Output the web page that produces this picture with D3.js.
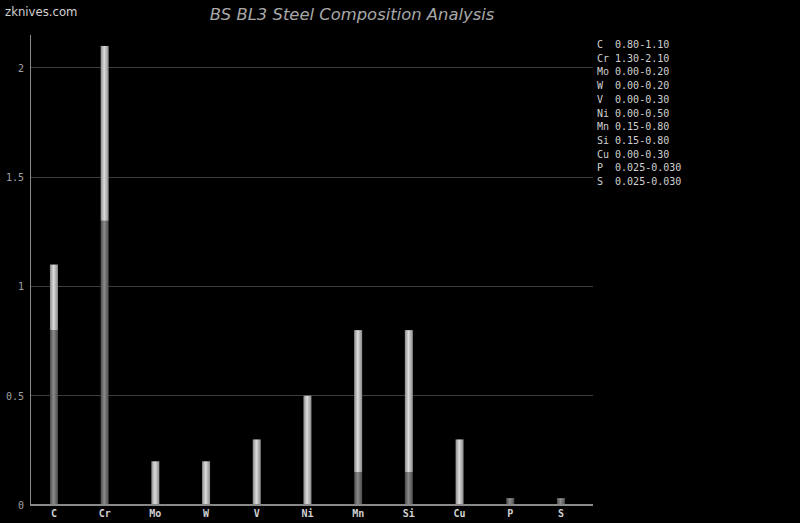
<!DOCTYPE html>
<html><head><meta charset="utf-8">
<script src="https://cdn.jsdelivr.net/npm/d3@7"></script>
<style>body{margin:0;background:#000;}svg{display:block;}</style>
</head><body>
<svg id="chart" width="800" height="523"></svg>
<script>
const elements = ["C","Cr","Mo","W","V","Ni","Mn","Si","Cu","P","S"];
const minValues = [0.80,1.30,0.00,0.00,0.00,0.00,0.15,0.15,0.00,0.025,0.025];
const maxValues = [1.10,2.10,0.20,0.20,0.30,0.50,0.80,0.80,0.30,0.030,0.030];
const rangeLabels = ["0.80-1.10","1.30-2.10","0.00-0.20","0.00-0.20","0.00-0.30","0.00-0.50","0.15-0.80","0.15-0.80","0.00-0.30","0.025-0.030","0.025-0.030"];
const yTicks = [0,0.5,1,1.5,2];
const yTickLabels = ["0","0.5","1","1.5","2"];

const svg = d3.select("#chart");
const W = 800, H = 523;
svg.append("rect").attr("width",W).attr("height",H).attr("fill","#000");

const plotLeft = 30, plotRight = 593, plotTop = 35, plotBottom = 505;
const x = d3.scaleBand().domain(elements).range([28.6, 586.3]);
const y = d3.scaleLinear().domain([0, 2.15]).range([plotBottom, plotTop]);
const mono = "'DejaVu Sans Mono', 'Liberation Mono', monospace";

const defs = svg.append("defs");
function grad(id, edge, center){
  const g = defs.append("linearGradient").attr("id",id).attr("x1","0%").attr("x2","100%").attr("y1","0%").attr("y2","0%");
  g.append("stop").attr("offset","0%").attr("stop-color",edge);
  g.append("stop").attr("offset","45%").attr("stop-color",center);
  g.append("stop").attr("offset","100%").attr("stop-color",edge);
}
grad("gLow","#4a4a4a","#8a8a8a");
grad("gHigh","#8a8a8a","#dcdcdc");

// gridlines
svg.append("g").selectAll("line").data(yTicks.filter(d=>d>0)).join("line")
  .attr("x1",plotLeft).attr("x2",plotRight)
  .attr("y1",d=>y(d)).attr("y2",d=>y(d))
  .attr("stroke","#3c3c3c").attr("stroke-width",1).attr("shape-rendering","crispEdges");

// y tick labels
svg.append("g").selectAll("text").data(yTicks).join("text")
  .attr("x",24).attr("y",d=>y(d)+4)
  .attr("text-anchor","end").attr("fill","#a0a0a0")
  .attr("font-family",mono).attr("font-size","10px")
  .text((d,i)=>yTickLabels[i]);

// bars
const bw = 8;
const bars = svg.append("g");
bars.selectAll("rect.low").data(elements).join("rect").attr("class","low")
  .attr("x",d=>x(d)+x.bandwidth()/2-bw/2).attr("width",bw)
  .attr("y",(d,i)=>y(minValues[i])).attr("height",(d,i)=>y(0)-y(minValues[i]))
  .attr("fill","url(#gLow)");
bars.selectAll("rect.high").data(elements).join("rect").attr("class","high")
  .attr("x",d=>x(d)+x.bandwidth()/2-bw/2).attr("width",bw)
  .attr("y",(d,i)=>y(maxValues[i])).attr("height",(d,i)=>y(minValues[i])-y(maxValues[i]))
  .attr("fill","url(#gHigh)");

// axes lines
svg.append("line").attr("x1",plotLeft).attr("x2",plotLeft).attr("y1",plotTop).attr("y2",plotBottom)
  .attr("stroke","#8a8a8a").attr("stroke-width",1).attr("shape-rendering","crispEdges");
svg.append("line").attr("x1",plotLeft).attr("x2",plotRight).attr("y1",plotBottom).attr("y2",plotBottom)
  .attr("stroke","#8a8a8a").attr("stroke-width",1.5).attr("shape-rendering","crispEdges");

// x labels
svg.append("g").selectAll("text").data(elements).join("text")
  .attr("x",d=>x(d)+x.bandwidth()/2).attr("y",517)
  .attr("text-anchor","middle").attr("fill","#d0d0d0")
  .attr("font-family",mono).attr("font-size","10px").attr("font-weight","bold")
  .text(d=>d);

// legend
svg.append("g").selectAll("text").data(elements).join("text")
  .attr("x",597).attr("y",(d,i)=>48+i*13.7)
  .attr("fill","#d0d0d0").attr("font-family",mono).attr("font-size","10px")
  .attr("xml:space","preserve").style("white-space","pre")
  .text((d,i)=>(d.length===1?d+"  ":d+" ")+rangeLabels[i]);

// title
svg.append("text").attr("x",352).attr("y",20).attr("text-anchor","middle")
  .attr("fill","#a8a8a8").attr("font-family","'DejaVu Sans', sans-serif")
  .attr("font-size","16.4px").attr("font-style","italic")
  .text("BS BL3 Steel Composition Analysis");

// watermark
svg.append("text").attr("x",5).attr("y",16)
  .attr("fill","#d0d0d0").attr("font-family","'DejaVu Sans Condensed','Liberation Sans Narrow',sans-serif")
  .attr("font-size","13px")
  .text("zknives.com");
</script>
</body></html>
